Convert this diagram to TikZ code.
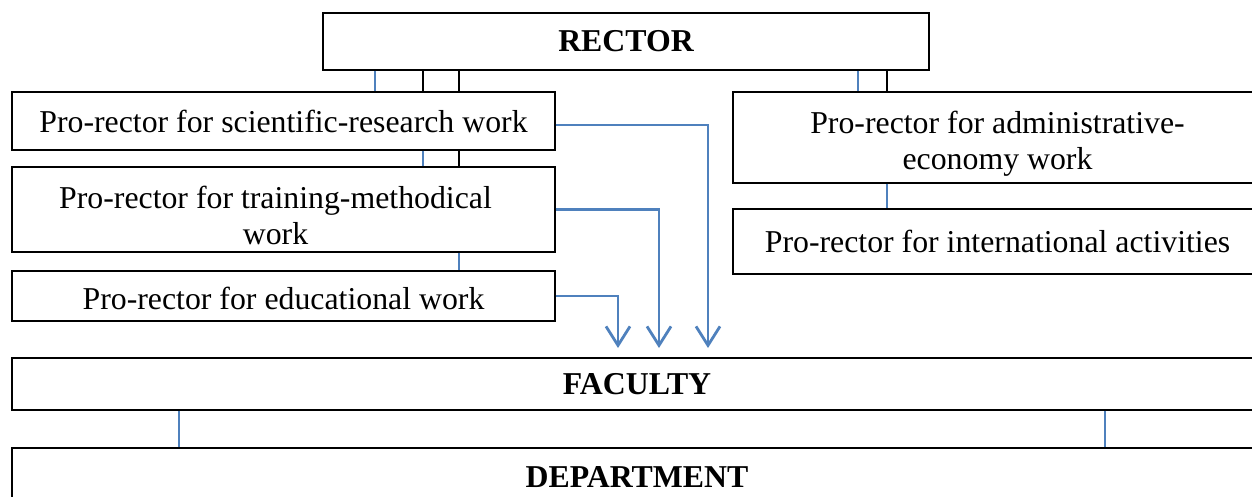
\documentclass[tikz,border=0pt]{standalone}
\usepackage{fontspec}
\setmainfont{Liberation Serif}
\usetikzlibrary{arrows.meta}
\definecolor{wblue}{HTML}{4F81BD}
\tikzset{
  box/.style={draw=black, line width=1.4pt, fill=white, inner sep=0pt, align=center,
    font=\fontsize{31.8}{36.5}\selectfont},
  bbox/.style={box, font=\fontsize{31.8}{36.5}\selectfont\bfseries},
  lbl/.style={inner sep=0pt, align=center, font=\fontsize{31.8}{36.5}\selectfont},
  blk/.style={draw=black, line width=1.6pt},
  blu/.style={draw=wblue, line width=1.8pt},
  arr/.style={draw=wblue, line width=2.2pt, -{Straight Barb[length=19pt,width=24pt,line width=2.8pt]}},
}
\begin{document}
\begin{tikzpicture}[x=1pt,y=-1pt]
\useasboundingbox (0,0) rectangle (1252,497);
\fill[white] (0,0) rectangle (1252,497);
\begin{scope}
\clip (0,0) rectangle (1252,497);
\node[bbox, minimum width=606pt, minimum height=57pt] (rector) at (626,41.5) {RECTOR};
\node[box, minimum width=543pt, minimum height=58pt] (sci) at (283.5,121) {Pro-rector for scientific-research work};
\node[box, minimum width=543pt, minimum height=85pt,
  label={[lbl, xshift=-8pt, yshift=-6pt]center:Pro-rector for training-methodical\\work}] (train) at (283.5,209.5) {};
\node[box, minimum width=543pt, minimum height=50pt,
  label={[lbl, yshift=-2.5pt]center:Pro-rector for educational work}] (edu) at (283.5,296) {};
\node[box, minimum width=529pt, minimum height=91pt,
  label={[lbl, yshift=-6pt]center:Pro-rector for administrative-\\economy work}] (admin) at (997.5,137.5) {};
\node[box, minimum width=529pt, minimum height=65pt] (intl) at (997.5,241.5) {Pro-rector for international activities};
\node[bbox, minimum width=1250pt, minimum height=52pt] (faculty) at (637,384) {FACULTY};
\node[bbox, minimum width=1250pt, minimum height=58pt] (dept) at (637,477) {DEPARTMENT};

% connectors rector -> pro-rectors
\draw[blu] (rector.south -| 375,0) -- (sci.north -| 375,0);
\draw[blk] (rector.south -| 423,0) -- (sci.north -| 423,0);
\draw[blk] (rector.south -| 459,0) -- (sci.north -| 459,0);
\draw[blu] (sci.south -| 423,0) -- (train.north -| 423,0);
\draw[blk] (sci.south -| 459,0) -- (train.north -| 459,0);
\draw[blu] (train.south -| 459,0) -- (edu.north -| 459,0);
\draw[blu] (rector.south -| 858,0) -- (admin.north -| 858,0);
\draw[blk] (rector.south -| 887,0) -- (admin.north -| 887,0);
\draw[blu] (admin.south -| 887,0) -- (intl.north -| 887,0);

% arrows to faculty
\coordinate (a1) at (708,348);
\coordinate (a2) at (659,348);
\coordinate (a3) at (618,348);
\draw[arr] (sci.east) ++(0,4) -| (a1);
\draw[arr] (train.east) -| (a2);
\draw[arr] (edu.east) -| (a3);

% faculty -> department
\draw[blu] (faculty.south -| 179,0) -- (dept.north -| 179,0);
\draw[blu] (faculty.south -| 1105,0) -- (dept.north -| 1105,0);
\end{scope}
\end{tikzpicture}
\end{document}
